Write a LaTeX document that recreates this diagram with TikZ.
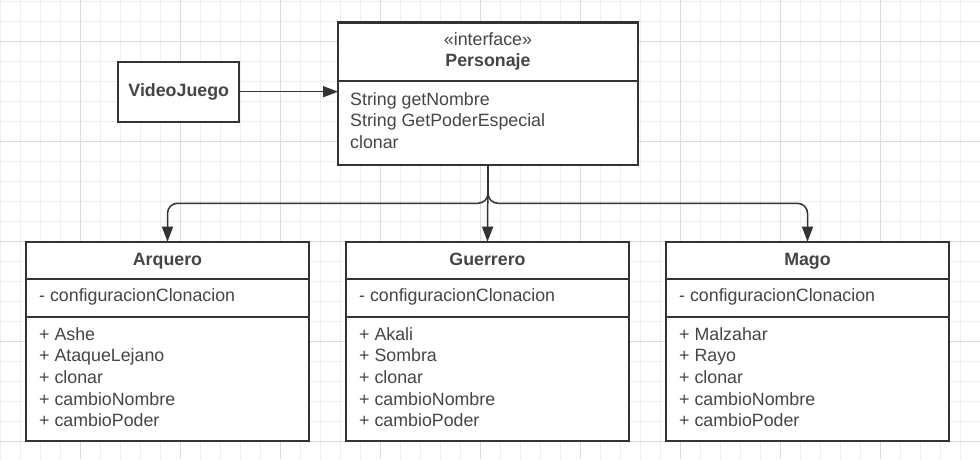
\documentclass[tikz,border=0pt]{standalone}
\usepackage{fontspec}
\setmainfont{Liberation Sans}
\usetikzlibrary{arrows.meta}
\definecolor{ink}{HTML}{333333}
\definecolor{txt}{HTML}{454545}
\definecolor{gminor}{HTML}{EEEEEE}
\definecolor{gmajor}{HTML}{DCDCDC}
\begin{document}
\begin{tikzpicture}[x=1pt,y=-1pt,
  box/.style={draw=ink, line width=2.4pt, fill=white, inner sep=0pt, outer sep=0pt},
  lbl/.style={anchor=base west, inner sep=0pt, text=txt, font=\fontsize{17.8}{21.7}\selectfont},
  ttl/.style={anchor=base, inner sep=0pt, text=txt, font=\fontsize{17.8}{21.7}\selectfont\bfseries},
  stereo/.style={anchor=base, inner sep=0pt, text=txt, font=\fontsize{17.8}{21.7}\selectfont},
  divline/.style={draw=ink, line width=2pt},
  conn/.style={draw=ink, line width=1.5pt, -{Triangle[length=15pt,width=11pt]}, rounded corners=10pt}]
\useasboundingbox (0,0) rectangle (980,459);
\fill[white] (0,0) rectangle (980,459);
% grid
\foreach \gx in {0,20,...,980} \draw[gminor, line width=1pt] (\gx,0) -- (\gx,459);
\foreach \gy in {1.5,21.5,...,441.5} \draw[gminor, line width=1pt] (0,\gy) -- (980,\gy);
\foreach \gx in {80,180,...,880} \draw[gmajor, line width=1pt] (\gx,0) -- (\gx,459);
\foreach \gy in {41.5,141.5,...,441.5} \draw[gmajor, line width=1pt] (0,\gy) -- (980,\gy);

% VideoJuego
\node[box, minimum width=121pt, minimum height=60pt] (vj) at (178.75,91.7) {};
\node[ttl] (vjt) at (178.75,96) {VideoJuego};

% Personaje
\node[box, minimum width=300pt, minimum height=142.4pt] (pers) at (488,93.5) {};
\draw[divline] (338,81) -- (638,81);
\node[stereo] (perss) at (488,45) {«interface»};
\node[ttl] (perst) at (488,66.7) {Personaje};
\node[lbl] (pm1) at (350,105) {String getNombre};
\node[lbl] (pm2) at (350,126.7) {String GetPoderEspecial};
\node[lbl] (pm3) at (350,148.3) {clonar};

% classes
\node[box, minimum width=283pt, minimum height=199pt] (arq) at (167.5,341.2) {};
\node[box, minimum width=283pt, minimum height=199pt] (gue) at (487.5,341.2) {};
\node[box, minimum width=283pt, minimum height=199pt] (mag) at (807.5,341.2) {};
\foreach \cx in {26,346,666} {
  \draw[divline] (\cx,279) -- ({\cx+283},279);
  \draw[divline] (\cx,316.7) -- ({\cx+283},316.7);
}
\node[ttl] (arqt) at (167.5,265.7) {Arquero};
\node[ttl] (guet) at (487.5,265.7) {Guerrero};
\node[ttl] (magt) at (807.5,265.7) {Mago};

\node[lbl] (arqa) at (39,301.7) {- configuracionClonacion};
\node[lbl] (guea) at (359,301.7) {- configuracionClonacion};
\node[lbl] (maga) at (679,301.7) {- configuracionClonacion};

\node[lbl] (arq1) at (39,340) {+ Ashe};
\node[lbl] (arq2) at (39,361.7) {+ AtaqueLejano};
\node[lbl] (arq3) at (39,383.3) {+ clonar};
\node[lbl] (arq4) at (39,405) {+ cambioNombre};
\node[lbl] (arq5) at (39,426.7) {+ cambioPoder};

\node[lbl] (gue1) at (359,340) {+ Akali};
\node[lbl] (gue2) at (359,361.7) {+ Sombra};
\node[lbl] (gue3) at (359,383.3) {+ clonar};
\node[lbl] (gue4) at (359,405) {+ cambioNombre};
\node[lbl] (gue5) at (359,426.7) {+ cambioPoder};

\node[lbl] (mag1) at (679,340) {+ Malzahar};
\node[lbl] (mag2) at (679,361.7) {+ Rayo};
\node[lbl] (mag3) at (679,383.3) {+ clonar};
\node[lbl] (mag4) at (679,405) {+ cambioNombre};
\node[lbl] (mag5) at (679,426.7) {+ cambioPoder};

% connectors
\coordinate (bus) at (0,203.3);
\draw[conn] (vj.east) -- (vj.east -| pers.west);
\draw[conn] (pers.south) |- (bus -| arq.north) -- (arq.north);
\draw[conn] (pers.south) -- (gue.north);
\draw[conn] (pers.south) |- (bus -| mag.north) -- (mag.north);
\end{tikzpicture}
\end{document}
